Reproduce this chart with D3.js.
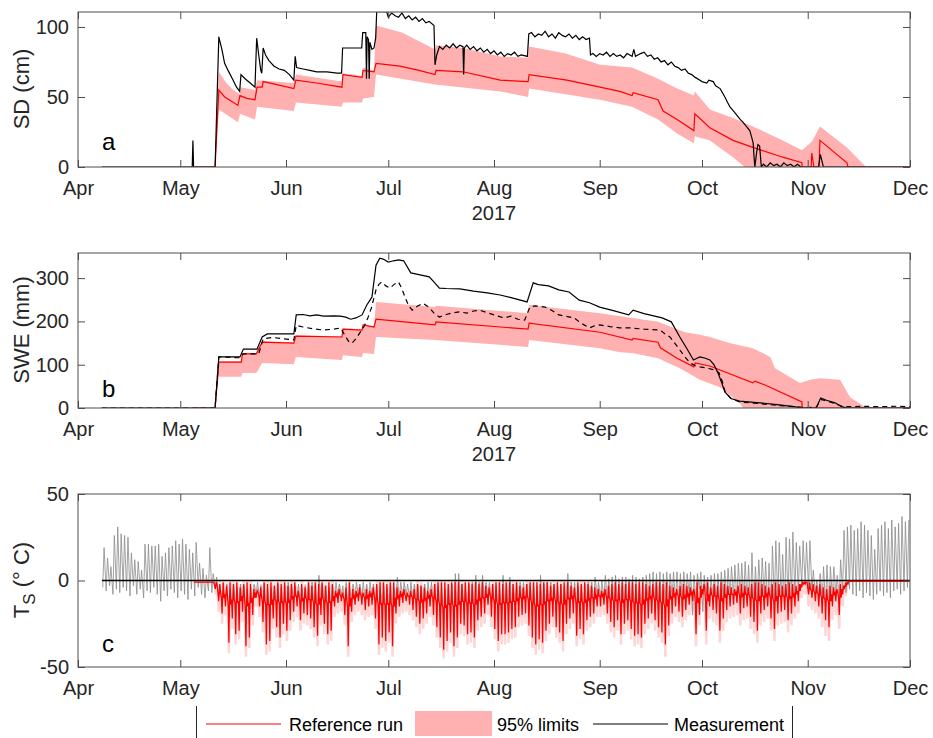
<!DOCTYPE html>
<html>
	<head>
		<meta charset="utf-8"/>
		<title>Snow model 2017</title>
		<script src="https://d3js.org/d3.v7.min.js"></script>
		<style type="text/css">
			body { margin: 0; background: #fff; }
			svg { display: block; font-family: "Liberation Sans", Arial, sans-serif; }
			.box { fill: none; stroke: #4d4d4d; stroke-width: 1; }
			.tick line { stroke: #4d4d4d; stroke-width: 1; }
			.tick text { fill: #262626; font-size: 20px; }
			.lbl { fill: #262626; font-size: 22px; }
			.plab { fill: #000; font-size: 24px; }
			.leg { fill: #000; font-size: 18px; }
		</style>
	</head>
	<body>
		<script type="text/javascript">

			//All x values are days since 1 April 2017
			//Panel a: snow depth (cm)
			var sdRef = [[34.3,0],[40.2,0],[41.3,55],[43,50],[45,47],[46.9,44],[47.5,51],[49.5,49],[51.9,48],[52.5,57],[54,57],[54.3,61],[58,59],[63.3,56],[63.9,62],[70,60],[77.4,57],[77.7,66],[83.3,64],[83.6,69],[86.8,68],[87.4,74],[94.4,72],[100,69],[104.7,66],[105,69],[112.9,68],[123.8,62],[132,61],[132.3,66],[143.4,62],[153.1,57],[158.9,54],[162.5,51],[162.8,53],[170.1,48],[171.6,40],[175.7,34],[180.6,26],[180.9,38],[185.3,28],[192.1,19],[197.9,14],[206.7,7],[212.3,3],[212.4,0],[215,0],[215.2,10],[215.8,0],[217.3,0],[217.6,19],[225.5,3],[225.8,0],[244,0]];
			var sdBandHi = [[40.2,0],[41.3,68],[43.5,60],[45.5,55],[47.5,52],[47.6,57],[51.9,55],[52.5,62],[63.3,60],[63.9,66],[77.4,61],[77.7,67],[83.3,65],[83.6,71],[86.8,69],[87.4,101],[95,96],[104.7,84],[105,87],[113,85],[123.8,79],[132,78],[132.3,86],[143,81],[153.1,73],[162.5,71],[170.1,63],[175.7,56],[180.6,51],[180.9,54],[185.3,41],[192.1,35],[197.9,29],[206.7,19],[212.3,12],[215.2,18],[217.6,29],[225.5,14],[231.1,0]];
			var sdBandLo = [[40.2,0],[41.3,41],[46.9,32],[47.5,38],[51.9,34],[52.5,43],[63.3,40],[63.9,46],[77.4,43],[77.7,46],[83.3,46],[83.6,49],[86.8,50],[87.4,66],[104.7,59],[123.8,54],[132,50],[132.3,56],[153.1,48],[162.5,43],[170.1,34],[175.7,24],[180.6,17],[180.9,22],[185.3,19],[192.1,7],[195.5,0],[231.1,0]];
			var sdMeas = [[7,0],[33.5,0],[33.7,19],[33.9,0],[40.2,0],[41.3,93],[42.2,84],[43,74],[44,69],[45.5,62],[46.5,57],[47.4,54],[47.8,66],[49,63],[50.5,60],[51.9,57],[52.4,92],[53,80],[53.6,69],[53.9,67],[54.3,85],[55,80],[56,76],[57.5,72],[59,70],[60.5,69],[62,66],[63.3,62],[63.7,79],[64.1,71],[66,70],[68,69],[70,68],[73,68],[76,67],[77.3,67],[77.6,85],[80,85],[83.2,85],[83.5,96],[84.4,96],[84.6,63],[84.8,93],[85.2,91],[85.4,63],[85.6,89],[86.2,84],[86.8,85],[87.3,92],[87.6,111],[90.5,111],[91,107],[92,110],[93,108],[94,107],[95,110],[96,106],[97,108],[98,105],[99,107],[100,104],[101,106],[102,103],[103,104],[104.4,101],[104.7,73],[105.2,80],[106,86],[107,84],[108,87],[109,85],[110,88],[111,85],[112,87],[112.9,86],[113.1,66],[113.3,85],[114,87],[115,84],[116,86],[117,83],[118,85],[119,82],[120,84],[121,81],[122,83],[123,80],[124,82],[125,79],[126,81],[127,80],[128,82],[129,79],[130,80],[131.8,79],[132.2,95],[133,96],[134,93],[135,95],[136,94],[137,97],[138,93],[139,95],[140,92],[141,96],[142,94],[143,93],[144,95],[145,92],[146,94],[147,91],[148,93],[149,91],[150,92],[150.3,80],[151,81],[152,79],[153,81],[154,80],[155,82],[156,79],[157,81],[158,79],[159,80],[160,78],[161,81],[162.5,79],[163,84],[163.5,79],[165,81],[166,82],[167,79],[168,80],[169,77],[170,78],[171,75],[172,76],[173,73],[174,75],[175,72],[176,71],[177,69],[178,70],[179,67],[180,66],[181,64],[182.4,62],[183,61],[184.4,60],[185,62],[186.3,61],[187,58],[188.3,56],[189,53],[189.7,50],[190.5,46],[191.2,43],[192.2,40],[193.2,37],[194.2,34],[195,32],[196,29],[197,26],[197.6,21],[198,17],[198.3,6],[198.5,0],[199,10],[199.4,16],[199.9,15],[200.4,0],[201,2],[202,0],[203,3],[204,1],[205,2],[206,0],[207,3],[208,1],[209,2],[210,0],[211,2],[212,0],[217.2,0],[217.7,9],[218.6,0],[244,0]];

			//Panel b: snow water equivalent (mm)
			var sweRef = [[34.3,0],[40.2,0],[41.3,106],[47.9,106],[48.2,125],[52.3,125],[54,152],[63.3,150],[63.9,166],[77.4,164],[77.7,182],[83.3,180],[83.6,192],[86.8,187],[87.4,205],[104.7,192],[105,199],[132,182],[132.3,196],[153.1,175],[162.5,157],[162.8,161],[170.1,152],[170.8,139],[175.7,115],[180.6,95],[181,104],[185.3,97],[197.9,58],[198.5,62],[201.5,53],[212.3,14],[212.4,0],[244,0]];
			var sweBandHi = [[40.2,0],[41.3,108],[47.9,108],[48.2,127],[52.3,127],[54,154],[63.3,152],[63.9,168],[77.4,166],[77.7,184],[83.3,182],[83.6,194],[86.8,189],[87.4,245],[104.7,233],[105,236],[132,219],[132.3,238],[153.1,219],[162.5,208],[170.1,199],[178,175],[182.4,169],[185.3,164],[191,150],[197.9,138],[203,118],[204.4,92],[211.7,58],[215,66],[217.6,69],[223.5,65],[226.4,25],[231.3,0]];
			var sweBandLo = [[40.2,0],[41.3,72],[47.9,72],[48.2,81],[52.3,81],[54,104],[63.3,101],[63.9,118],[77.4,111],[77.7,122],[83.3,118],[83.6,127],[86.8,125],[87.4,164],[104.7,157],[132,141],[132.3,157],[153.1,138],[158.9,129],[162.5,127],[170.1,115],[176.5,92],[182.4,65],[188.3,48],[194,12],[195,0],[231.3,0]];
			var sweMeas = [[7,0],[40.2,0],[41.3,118],[47.5,118],[48.5,136],[52.5,136],[54,164],[55.5,171],[63.3,171],[64,215],[66,216],[68,213],[70,215],[72,212],[75,213],[77,212],[78.5,210],[80,205],[81.5,208],[83.3,215],[84.7,238],[86.2,256],[87.4,330],[88.5,346],[89.5,344],[91,337],[92.5,340],[94,342],[95.5,340],[97.6,312],[100,308],[103,303],[104.5,290],[106,277],[108,276],[112,275],[116,270],[120,266],[123.8,261],[127,255],[131.7,245],[133.5,289],[135,285],[138,282],[141,273],[144,268],[147,249],[150,243],[153,233],[157,225],[161.5,215],[162.8,226],[166,218],[171.3,208],[174,199],[176.5,164],[178.5,138],[180.5,111],[181.5,115],[182.4,118],[184,115],[185.3,111],[186.5,100],[187.7,81],[188.7,60],[189.7,37],[191.5,22],[194,16],[200,12],[205,8],[210,3],[212.3,0],[216.5,0],[217.8,23],[219.5,18],[222,12],[224,3],[225.4,0],[244,0]];
			var sweMeas2 = [[7,0],[40.2,0],[41.3,118],[47.5,116],[48.5,125],[53,125],[54.3,160],[57,163],[60,160],[63.3,157],[64,191],[66,187],[69,183],[72,180],[75,182],[77,185],[78.5,165],[79.5,152],[80.4,150],[81.5,160],[82.6,173],[84,190],[85,208],[86,230],[87.4,273],[88.2,285],[89,291],[90.3,282],[91.5,277],[92.8,286],[94,291],[95,275],[96,254],[97,236],[98,226],[99.5,235],[101.2,242],[103,232],[104.5,218],[106,210],[108,216],[110,220],[112,222],[114,219],[116,224],[117.8,226],[120,220],[122,215],[125,208],[127,212],[129,205],[131,203],[132.5,233],[134,236],[137,233],[139,225],[141,215],[143,212],[145.5,208],[147.5,196],[150,185],[151.5,190],[153,192],[156,188],[158.9,185],[162,185],[166,182],[170.7,180],[172,172],[173.6,164],[175,150],[176.5,134],[178,118],[179.5,104],[181,98],[182.4,95],[184.5,92],[186.8,88],[188,81],[189,60],[189.8,37],[191.5,22],[194,14],[200,10],[205,6],[210,3],[214,1],[216.5,2],[218,20],[220,15],[222,10],[224,4],[226,3],[230,4],[235,3],[240,4],[244,3]];

			//Panel c: daily values of snow surface temperature (deg C)
			var tsMeasStart = 7;
			var tsMeasHi = [19,13,8,26,31,27,26,25,16,12,11,6,21,21,20,20,21,14,16,19,20,23,21,24,21,18,16,22,10,7,3,19,4,
				2,-3,-4,-2,-5,-3,-4,-2,-3,-5, -4,-2,-1,-3,-2,-5,-4,-3,-2,-4, -3,-1,-2,-3,-2,-4,-3,-2,-1,-2, 3,-2,-3,-4,-2,-1,-2,-3,-1,-4,
				-2,-1,-2,-1,-2,-1,-2,-3,-4,-3, -4,-3,-4,2,-1,-1,-2,-1,-2,-3, -3,-2,-1,-1,-2,-3,-4,-5,-3,-2, 4,4,-2,-3,-2,-1,3,-1,3,-1,
				-1,-2,-3,-4,3,-2,2,-2,-1,-1, -1,-2,-3,-4,-3,3,-2,-1,-1,-2, -3,-2,-3,4,-1,-1,-3,-2,-2,-1, -1,2,-1,
				0,3,1,2,3,1,2,2,1,3, 2,1,2,3,4,5,4,5,4,5, 4,5,5,4,5,4,5,3,4,5,
				3,2,3,4,4,5,6,7,8,9, 10,10,11,9,16,8,12,13,11,10, 20,23,22,15,25,24,28,22,20,23, 22,23,6,0,4,8,9,8,8,3,
				12,29,31,32,29,30,34,32,29,26, 18,30,32,34,30,35,31,33,37,34,35];
			var tsMeasLo = [-4,-6,-3,-8,-5,-7,-4,-6,-9,-3,-8,-5,-10,-6,-7,-4,-8,-12,-6,-9,-5,-7,-10,-6,-8,-11,-5,-9,-4,-8,-10,-6,-7,
				-4,-10,-14,-12,-22,-16,-20,-19,-13,-24, -21,-14,-8,-11,-16,-23,-22,-15,-18,-21, -17,-19,-16,-13,-11,-16,-13,-14,-15,-18, -21,-14,-17,-20,-19,-11,-9,-9,-14,-24,
				-13,-10,-9,-10,-12,-11,-10,-15,-23,-21, -22,-19,-24,-13,-11,-9,-9,-10,-12,-14, -17,-15,-13,-11,-14,-18,-21,-25,-22,-19, -24,-21,-17,-17,-20,-19,-21,-16,-14,-13,
				-10,-14,-18,-22,-20,-20,-19,-18,-17,-14, -13,-13,-17,-21,-23,-22,-23,-19,-16,-14, -18,-19,-22,-16,-15,-13,-20,-18,-20,-15, -14,-13,-10,
				-10,-10,-13,-16,-18,-15,-20,-16,-15,-18, -21,-20,-21,-16,-13,-15,-18,-19,-23,-14, -12,-10,-12,-14,-11,-9,-8,-20,-13,-5,
				-18,-9,-12,-12,-18,-14,-11,-10,-9,-8, -12,-10,-10,-13,-15,-18,-12,-10,-9,-14, -17,-12,-12,-11,-14,-12,-10,-8,-7,-3, -2,-5,-6,-8,-10,-12,-15,-17,-10,-8,
				-12,-6,-7,-5,-8,-9,-6,-10,-7,-9, -11,-8,-6,-9,-7,-10,-6,-5,-8,-6,-4];

			var tsRefStart = 34;
			var tsRefLo = [-1,-1,-1,-1,-1,-1,
				-5,-12,-19,-15,-36,-22,-31,-29,-18,-38, -33,-20,-10,-15,-24,-37,-35,-22,-27,-33, -25,-29,-23,-18,-15,-23,-19,-20,-22,-27, -32,-20,-25,-31,-29,-15,-13,-12,-20,-38,
				-18,-14,-12,-14,-17,-15,-14,-22,-37,-33, -35,-30,-38,-19,-15,-13,-12,-14,-17,-21, -25,-22,-19,-15,-20,-27,-33,-40,-35,-30, -38,-33,-25,-26,-31,-30,-33,-23,-21,-19,
				-14,-21,-28,-35,-31,-31,-30,-28,-27,-21, -20,-19,-26,-33,-37,-34,-36,-29,-25,-21, -27,-30,-35,-25,-22,-19,-32,-28,-31,-23, -21,-19,-15,-15,-14,-19,-24,-27,-23,-31,
				-25,-23,-28,-32,-31,-33,-25,-22,-19,-23, -27,-30,-37,-26,-19,-15,-18,-21,-17,-14, -12,-31,-20,-8,-29,-15,-17,-19,-29,-22, -17,-15,-14,-13,-19,-16,-15,-21,-24,-29,
				-19,-17,-15,-22,-28,-19,-18,-17,-23,-19, -15,-12,-4,-2,-8,-10,-12,-15,-19,-23, -27,-15,-12,-20,-8,-3,
				-0.5,-0.5,-0.5,-0.5,-0.5,-0.5,-0.5,-0.5,-0.5,-0.5,-0.5,-0.5,-0.5,-0.5,-0.5,-0.5,-0.5,-0.5];
			var tsRefMid = [-1,-1,-1,-1,-1,-1,
				-3,-7,-10,-8,-14,-11,-13,-12,-9,-15, -13,-10,-7,-9,-12,-14,-14,-11,-12,-13, -12,-13,-11,-9,-9,-12,-10,-11,-11,-13, -14,-10,-12,-13,-12,-9,-8,-9,-11,-15,
				-10,-9,-8,-9,-10,-9,-8,-11,-14,-13, -14,-13,-15,-10,-9,-8,-9,-9,-10,-11, -12,-11,-10,-9,-10,-12,-14,-16,-14,-13, -15,-14,-12,-12,-13,-13,-14,-11,-10,-10,
				-8,-10,-12,-14,-13,-13,-13,-12,-12,-10, -10,-9,-11,-13,-15,-14,-14,-12,-11,-10, -12,-13,-14,-11,-10,-9,-13,-12,-13,-11, -10,-10,-9,-9,-8,-10,-11,-12,-11,-13,
				-11,-11,-12,-13,-13,-14,-11,-10,-9,-11, -12,-13,-15,-11,-9,-8,-9,-10,-9,-8, -7,-13,-10,-5,-12,-8,-9,-9,-12,-10, -8,-8,-8,-7,-9,-8,-8,-10,-11,-12,
				-9,-9,-8,-10,-12,-9,-9,-9,-10,-9, -8,-6,-2,-1,-5,-6,-7,-8,-10,-11, -12,-8,-7,-10,-5,-2,
				-0.5,-0.5,-0.5,-0.5,-0.5,-0.5,-0.5,-0.5,-0.5,-0.5,-0.5,-0.5,-0.5,-0.5,-0.5,-0.5,-0.5,-0.5];
			var tsRefHi = [-1,-1,-1,-1,-1,-1,
				-1,-2,-1,-3,-1,-2,-1,-4,-2,-1, -2,-5,-6,-4,-1,-2,-1,-3,-1,-2, -1,-3,-2,-1,-6,-2,-4,-1,-3,-1, -2,-1,-3,-1,-2,-6,-5,-7,-4,-1,
				-5,-6,-4,-7,-5,-6,-4,-2,-1,-1, -2,-1,-1,-4,-6,-5,-7,-6,-5,-2, -3,-4,-6,-5,-2,-1,-1,-1,-2,-1, -1,-1,-2,-1,-1,-2,-1,-2,-1,-3,
				-4,-2,-1,-1,-2,-1,-1,-2,-1,-3, -4,-2,-1,-1,-1,-2,-1,-1,-3,-2, -1,-2,-1,-1,-3,-4,-1,-2,-1,-2, -3,-4,-5,-6,-5,-3,-2,-1,-2,-1,
				-2,-1,-1,-2,-1,-1,-2,-3,-2,-1, -1,-2,-1,-3,-4,-5,-3,-2,-3,-4, -5,-1,-3,-2,-1,-4,-2,-3,-1,-2, -3,-4,-5,-3,-2,-3,-4,-2,-1,-1,
				-2,-3,-4,-2,-1,-2,-3,-2,-1,-2, -3,-2,-1,-1,-1,-2,-3,-2,-4,-5, -3,-4,-5,-2,-3,-1,
				-0.5,-0.5,-0.5,-0.5,-0.5,-0.5,-0.5,-0.5,-0.5,-0.5,-0.5,-0.5,-0.5,-0.5,-0.5,-0.5,-0.5,-0.5];

			var tsBandStart = 40;
			var tsBandLo = [-8,-18,-25,-20,-42,-28,-37,-34,-24,-44, -39,-26,-15,-21,-30,-43,-41,-28,-33,-39, -31,-35,-29,-24,-21,-29,-25,-26,-28,-33, -38,-26,-31,-37,-35,-21,-19,-18,-26,-44,
				-24,-20,-18,-20,-23,-21,-20,-28,-43,-39, -41,-36,-44,-25,-21,-19,-18,-20,-23,-27, -31,-28,-25,-21,-26,-33,-39,-45,-41,-36, -44,-39,-31,-32,-37,-36,-39,-29,-27,-25,
				-20,-27,-34,-41,-37,-37,-36,-34,-33,-27, -26,-25,-32,-39,-43,-40,-42,-35,-31,-27, -33,-36,-41,-31,-28,-25,-38,-34,-37,-29, -27,-25,-21,-21,-20,-25,-30,-33,-29,-37,
				-31,-29,-34,-38,-37,-39,-31,-28,-25,-29, -33,-36,-44,-32,-25,-21,-24,-27,-23,-20, -18,-38,-26,-14,-37,-22,-24,-26,-36,-29, -24,-22,-21,-20,-26,-23,-22,-28,-31,-36,
				-26,-24,-22,-29,-35,-26,-25,-24,-30,-26, -22,-19,-10,-8,-15,-17,-19,-22,-27,-32, -35,-23,-20,-28,-15,-9];
			var tsBandHi = [0,0,0,-1,0,0,0,-2,0,0, 0,-3,-4,-2,0,0,0,-1,0,0, 0,-1,0,0,-4,0,-2,0,-1,0, 0,0,-1,0,0,-4,-3,-5,-2,0,
				-3,-4,-2,-5,-3,-4,-2,0,0,0, 0,0,0,-2,-4,-3,-5,-4,-3,0, -1,-2,-4,-3,0,0,0,0,0,0, 0,0,0,0,0,0,0,0,0,-1,
				-2,0,0,0,0,0,0,0,0,-1, -2,0,0,0,0,0,0,0,-1,0, 0,0,0,0,-1,-2,0,0,0,0, -1,-2,-3,-4,-3,-1,0,0,0,0,
				0,0,0,0,0,0,0,-1,0,0, 0,0,0,-1,-2,-3,-1,0,-1,-2, -3,0,-1,0,0,-2,0,-1,0,0, -1,-2,-3,-1,0,-1,-2,0,0,0,
				0,-1,-2,0,0,0,-1,0,0,0, -1,0,0,0,0,0,-1,0,-2,-3, -1,-2,-3,0,-1,0];
			var tsZero = [[7,0],[244,0]];

			var yTicksA = [0, 50, 100],
				yTicksB = [0, 100, 200, 300],
				yTicksC = [-50, 0, 50];


			//Day offset -> date
			var t0 = Date.UTC(2017, 3, 1);
			function toDate(d) {
				return new Date(t0 + d * 864e5);
			}

			var w = 933,
				h = 738,
				left = 78,
				right = 910;

			var x = d3.scaleUtc()
				.domain([toDate(0), toDate(244)])
				.range([left, right]);
			var months = d3.utcMonth.range(toDate(0), toDate(244.5));

			var svg = d3.select("body").append("svg")
				.attr("width", w)
				.attr("height", h);

			//Build the box, ticks and labels for one panel
			function makePanel(id, top, bottom, domain, ticks, withYear) {
				var y = d3.scaleLinear().domain(domain).range([bottom, top]);
				var g = svg.append("g").attr("class", "panel-" + id);

				g.append("clipPath").attr("id", "clip-" + id)
					.append("rect")
					.attr("x", left).attr("y", top)
					.attr("width", right - left).attr("height", bottom - top);

				var plot = g.append("g").attr("clip-path", "url(#clip-" + id + ")");

				var xb = g.append("g").attr("transform", "translate(0," + bottom + ")")
					.call(d3.axisBottom(x).tickValues(months).tickFormat(d3.utcFormat("%b"))
						.tickSizeInner(-7).tickSizeOuter(0).tickPadding(14));
				var xt = g.append("g").attr("transform", "translate(0," + top + ")")
					.call(d3.axisTop(x).tickValues(months).tickFormat("").tickSizeInner(-7).tickSizeOuter(0));
				var yl = g.append("g").attr("transform", "translate(" + left + ",0)")
					.call(d3.axisLeft(y).tickValues(ticks).tickFormat(function(d) { return String(d); })
						.tickSizeInner(-7).tickSizeOuter(0).tickPadding(9));
				var yr = g.append("g").attr("transform", "translate(" + right + ",0)")
					.call(d3.axisRight(y).tickValues(ticks).tickFormat("").tickSizeInner(-7).tickSizeOuter(0));
				[xb, xt, yl, yr].forEach(function(a) {
					a.select(".domain").remove();
					a.attr("font-family", null).attr("font-size", null);
				});

				g.append("rect").attr("class", "box")
					.attr("x", left).attr("y", top)
					.attr("width", right - left).attr("height", bottom - top);

				if (withYear) {
					g.append("text").attr("class", "lbl")
						.attr("x", x(toDate(122))).attr("y", bottom + 53)
						.attr("text-anchor", "middle")
						.style("font-size", "20px")
						.text("2017");
				}

				return { y: y, plot: plot, g: g };
			}

			function lineFor(y) {
				return d3.line()
					.x(function(d) { return x(toDate(d[0])); })
					.y(function(d) { return y(d[1]); });
			}

			//Band polygon: upper boundary forwards, lower boundary backwards
			function bandPath(y, hi, lo) {
				return lineFor(y)(hi.concat(lo.slice().reverse())) + "Z";
			}

			//Daily values -> points within each day
			function zigzag(start, lo, hi) {
				var pts = [];
				lo.forEach(function(v, i) {
					pts.push([start + i + 0.25, v]);
					pts.push([start + i + 0.65, hi[i]]);
				});
				return pts;
			}
			function dayCycle(start, lo, mid, hi) {
				var pts = [];
				lo.forEach(function(v, i) {
					var d = start + i;
					pts.push([d + 0.05, mid[i]]);
					pts.push([d + 0.25, v]);
					pts.push([d + 0.42, mid[i]]);
					pts.push([d + 0.58, hi[i]]);
					pts.push([d + 0.8, mid[i]]);
				});
				return pts;
			}


			//Panel a
			var pa = makePanel("a", 12, 167, [0, 110.7], yTicksA, true);
			var la = lineFor(pa.y);
			pa.plot.append("path").attr("d", bandPath(pa.y, sdBandHi, sdBandLo)).attr("fill", "#ffb0b0");
			pa.plot.append("path").attr("d", la(sdRef)).attr("fill", "none").attr("stroke", "#ff0000").attr("stroke-width", 1.2);
			pa.plot.append("path").attr("d", la(sdMeas)).attr("fill", "none").attr("stroke", "#000").attr("stroke-width", 1.2);

			//Panel b
			var pb = makePanel("b", 253, 408, [0, 358], yTicksB, true);
			var lb = lineFor(pb.y);
			pb.plot.append("path").attr("d", bandPath(pb.y, sweBandHi, sweBandLo)).attr("fill", "#ffb0b0");
			pb.plot.append("path").attr("d", lb(sweRef)).attr("fill", "none").attr("stroke", "#ff0000").attr("stroke-width", 1.2);
			pb.plot.append("path").attr("d", lb(sweMeas2)).attr("fill", "none").attr("stroke", "#000").attr("stroke-width", 1.2).attr("stroke-dasharray", "5,4");
			pb.plot.append("path").attr("d", lb(sweMeas)).attr("fill", "none").attr("stroke", "#000").attr("stroke-width", 1.2);

			//Panel c
			var pc = makePanel("c", 494, 667, [-50, 50], yTicksC, false);
			var lc = lineFor(pc.y);
			pc.plot.append("path").attr("d", lc(zigzag(tsBandStart, tsBandLo, tsBandHi)))
				.attr("fill", "none").attr("stroke", "#ffc4c4").attr("stroke-width", 2.5).attr("opacity", 0.7);
			pc.plot.append("path").attr("d", lc(zigzag(tsMeasStart, tsMeasLo, tsMeasHi)))
				.attr("fill", "none").attr("stroke", "#8a8a8a").attr("stroke-width", 0.8);
			pc.plot.append("path").attr("d", lc(tsZero)).attr("fill", "none").attr("stroke", "#000").attr("stroke-width", 1.3);
			pc.plot.append("path").attr("d", lc(dayCycle(tsRefStart, tsRefLo, tsRefMid, tsRefHi)))
				.attr("fill", "none").attr("stroke", "#ff0000").attr("stroke-width", 1.25);


			//Y labels
			svg.append("text").attr("class", "lbl")
				.attr("transform", "translate(29,89) rotate(-90)")
				.attr("text-anchor", "middle").text("SD (cm)");
			svg.append("text").attr("class", "lbl")
				.attr("transform", "translate(29,330) rotate(-90)")
				.attr("text-anchor", "middle").text("SWE (mm)");
			var tl = svg.append("text").attr("class", "lbl")
				.attr("transform", "translate(29,580) rotate(-90)")
				.attr("text-anchor", "middle");
			tl.append("tspan").text("T");
			tl.append("tspan").attr("dy", 6).style("font-size", "17px").text("S");
			tl.append("tspan").attr("dy", -6).text(" (\u00b0 C)");

			//Panel letters
			svg.append("text").attr("class", "plab").attr("x", 102).attr("y", 150).text("a");
			svg.append("text").attr("class", "plab").attr("x", 102).attr("y", 397).text("b");
			svg.append("text").attr("class", "plab").attr("x", 102).attr("y", 652).text("c");


			//Legend
			var leg = svg.append("g");
			leg.append("line").attr("x1", 196.5).attr("x2", 196.5).attr("y1", 706).attr("y2", 738).attr("stroke", "#262626");
			leg.append("line").attr("x1", 792.5).attr("x2", 792.5).attr("y1", 706).attr("y2", 738).attr("stroke", "#262626");
			leg.append("line").attr("x1", 206).attr("x2", 281).attr("y1", 724).attr("y2", 724).attr("stroke", "#ff0000").attr("stroke-width", 1.2);
			leg.append("text").attr("class", "leg").attr("x", 289).attr("y", 731).text("Reference run");
			leg.append("rect").attr("x", 415).attr("y", 711).attr("width", 77).attr("height", 25).attr("fill", "#ffb0b0");
			leg.append("text").attr("class", "leg").attr("x", 497).attr("y", 731).text("95% limits");
			leg.append("line").attr("x1", 593).attr("x2", 668).attr("y1", 724).attr("y2", 724).attr("stroke", "#000").attr("stroke-width", 1.2);
			leg.append("text").attr("class", "leg").attr("x", 674).attr("y", 731).text("Measurement");

		</script>
	</body>
</html>
